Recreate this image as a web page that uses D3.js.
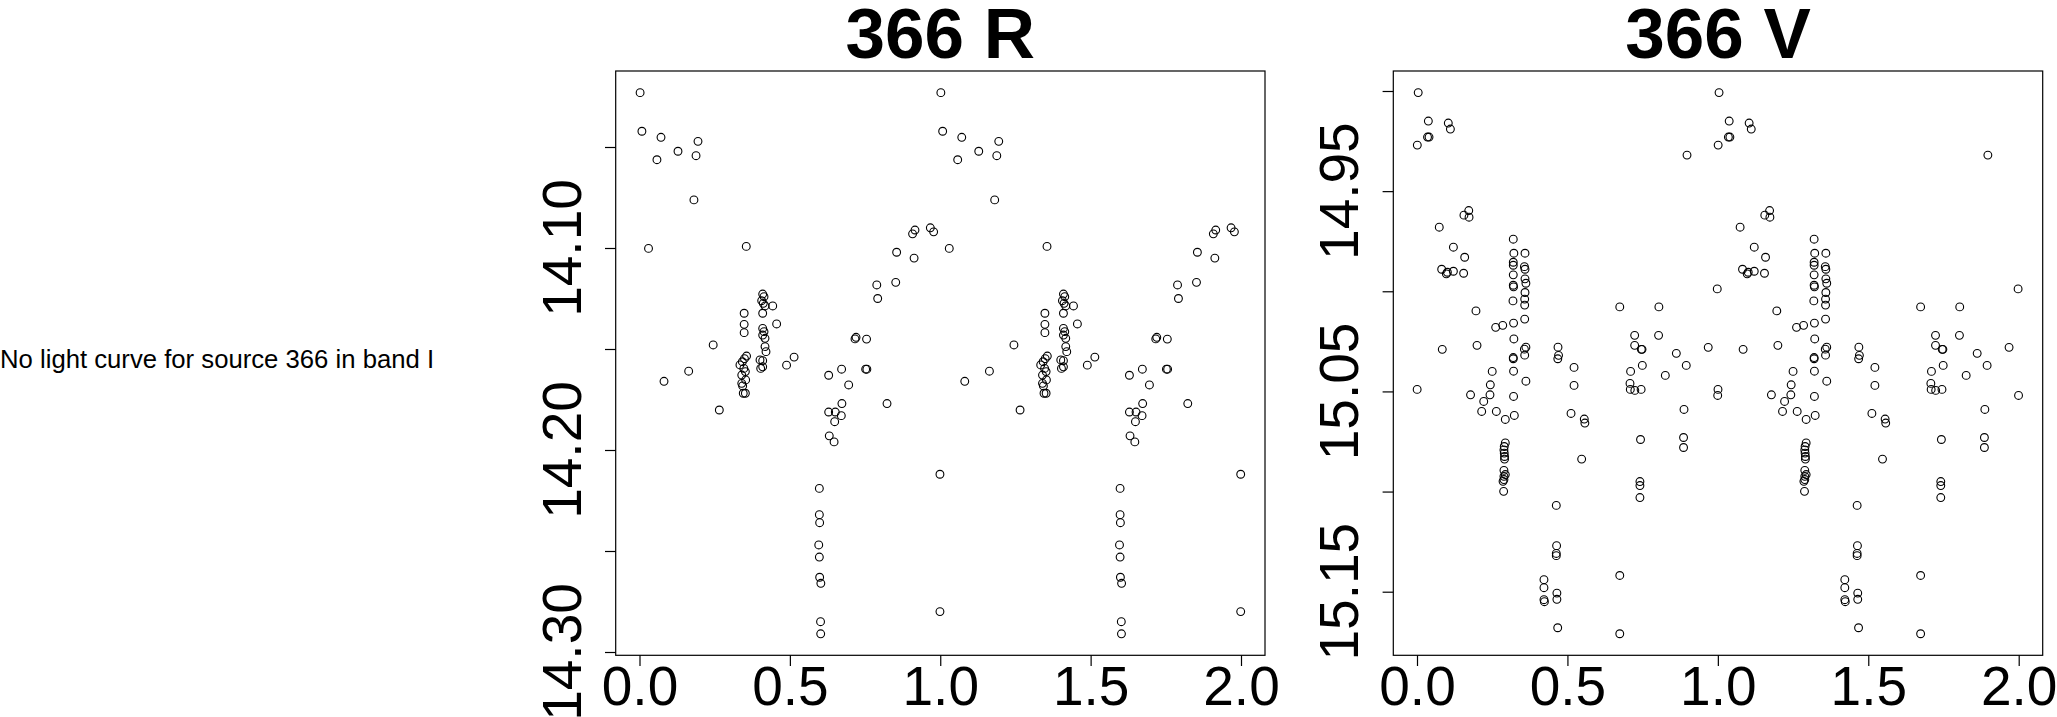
<!DOCTYPE html>
<html><head><meta charset="utf-8">
<script src="https://cdn.jsdelivr.net/npm/d3@7"></script>
<style>
body{margin:0;background:#fff}
svg{display:block}
text{font-family:"Liberation Sans",Arial,Helvetica,sans-serif;fill:#000}
</style>
</head><body>
<svg id="c" width="2057" height="717"></svg>
<script>
const source = "366";
const missingBand = "I";

// R band: phase (0-1) and magnitude
const rPhase = [0.002,0.008,0.0715,0.058,0.128,0.1945,0.188,0.181,0.030,0.355,0.245,0.0815,0.1635,0.2654,
  0.348,0.348,0.348,
  0.356,0.349,0.342,0.334,0.347,0.352,0.340,0.353,0.340,0.343,0.345,0.352,
  0.4096,0.414,0.4063,0.4116,0.4173,0.4096,0.443,0.456,0.4096,0.414,0.4096,0.4173,0.4173,0.4206,0.4007,0.4096,0.403,0.4096,
  0.489,0.514,
  0.855,0.852,0.789,0.792,0.7166,0.720,0.755,0.629,0.672,0.6955,0.752,0.756,0.823,0.673,0.629,0.651,0.671,0.649,0.631,0.647,
  0.598,0.598,0.599,0.596,0.598,0.599,0.603,0.602,0.6025,
  0.908,0.916,0.913,0.967,0.978,0.999,0.999];
const rMag = [14.0231,14.0422,14.0452,14.0563,14.0521,14.0472,14.0543,14.0762,14.1002,14.0992,14.148,14.166,14.161,14.1802,
  14.1323,14.1378,14.1419,
  14.1535,14.1548,14.1563,14.1579,14.1596,14.1612,14.1629,14.1653,14.1670,14.1683,14.1719,14.1719,
  14.1228,14.1241,14.1261,14.1274,14.1287,14.1323,14.1287,14.1376,14.1398,14.1414,14.1431,14.1447,14.1488,14.1513,14.1554,14.1558,14.1596,14.1588,
  14.158,14.154,
  14.1021,14.117,14.1183,14.125,14.1450,14.1442,14.1451,14.163,14.160,14.1678,14.160,14.160,14.177,14.177,14.1812,14.1812,14.183,14.186,14.193,14.196,
  14.219,14.232,14.236,14.247,14.253,14.263,14.266,14.285,14.291,
  14.093,14.0911,14.105,14.090,14.092,14.212,14.280];

// V band: phase (0-1) and magnitude
const vPhase = [0.004,0.0377,0.104,0.111,0.035,0.040,0.001,0.172,0.156,0.173,0.074,0.121,0.1585,0.082,0.0975,0.101,0.121,0.155,
  0.196,0.084,0.1995,0.2615,0.285,0.0005,0.250,0.2437,0.178,0.2426,
  0.320,0.322,0.320,0.320,0.320,0.320,0.321,0.319,0.321,0.322,0.320,0.320,0.321,0.321,
  0.359,0.357,0.359,0.359,0.362,0.359,0.358,0.358,0.358,0.362,0.357,0.358,0.362,
  0.2218,0.215,0.2637,0.2935,0.3235,
  0.2935,0.290,0.289,0.290,0.291,0.291,0.289,0.2935,0.289,0.289,0.286,0.288,
  0.463,0.464,0.463,0.463,0.422,0.422,0.422,0.4235,0.465,0.465,0.4677,
  0.512,0.556,0.558,0.5473,0.674,0.674,0.4687,0.4705,0.468,0.522,0.522,
  0.674,0.804,0.7235,0.803,0.7235,0.7457,0.748,0.862,0.749,0.710,0.8254,0.708,0.709,0.724,0.745,
  0.895,0.8975,0.968,0.998,0.9995,0.8875,0.743,0.886,0.886,0.741,0.741,0.741];
const vMag = [14.9008,14.915,14.916,14.919,14.923,14.923,14.927,14.9597,14.962,14.963,14.968,14.978,14.983,14.989,14.9913,14.9905,14.990,14.991,
  15.0098,15.029,15.027,15.018,15.017,15.049,15.040,15.0467,15.0517,15.0517,
  14.974,14.981,14.9855,14.987,14.9918,14.997,14.9978,15.0048,15.0159,15.0238,15.0331,15.0337,15.0399,15.0525,
  14.981,14.9877,14.989,14.9938,14.996,15.0006,15.0039,15.0069,15.0139,15.0279,15.0289,15.0319,15.0449,
  15.055,15.060,15.060,15.064,15.062,
  15.0757,15.0775,15.0792,15.0808,15.0825,15.0838,15.0894,15.0915,15.0924,15.094,15.0949,15.0999,
  15.1069,15.127,15.1309,15.132,15.144,15.148,15.154,15.155,15.1507,15.1538,15.168,
  15.061,15.0638,15.0658,15.0838,15.1419,15.171,15.0279,15.032,15.0337,15.038,15.047,
  15.0078,15.0078,15.022,15.022,15.027,15.029,15.029,15.031,15.037,15.040,15.042,15.046,15.049,15.0495,15.049,
  15.037,14.932,15.028,14.9988,15.052,15.059,15.074,15.073,15.078,15.095,15.097,15.103];

const cycles = [0, 1];
const xTicks = [0, 0.5, 1, 1.5, 2];
const rTicks = [14.05, 14.10, 14.15, 14.20, 14.25, 14.30];
const rLabels = [14.10, 14.20, 14.30];
const vTicks = [14.90, 14.95, 15.00, 15.05, 15.10, 15.15];
const vLabels = [14.95, 15.05, 15.15];

const svg = d3.select("#c");

svg.append("text")
  .attr("x", 0).attr("y", 368)
  .attr("font-size", 25.7)
  .text(`No light curve for source ${source} in band ${missingBand}`);

const panels = [
  {title: `${source} R`, phase: rPhase, mag: rMag, yTicks: rTicks, yLabels: rLabels,
   box: {l: 615.7, r: 1265, t: 71, b: 655.3}, xr: [639.5, 1241], yd: [14.10, 14.30], yr: [248, 652]},
  {title: `${source} V`, phase: vPhase, mag: vMag, yTicks: vTicks, yLabels: vLabels,
   box: {l: 1393.3, r: 2042.7, t: 71, b: 655.3}, xr: [1417, 2018.7], yd: [14.90, 15.15], yr: [91, 591.7]}
];

panels.forEach(p => {
  const x = d3.scaleLinear().domain([0, 2]).range(p.xr);
  const y = d3.scaleLinear().domain(p.yd).range(p.yr);
  const g = svg.append("g");
  const b = p.box;

  // points
  const pts = p.phase.flatMap((ph, i) => cycles.map(c => ({x: ph + c, y: p.mag[i]})));
  g.append("g").selectAll("circle").data(pts).join("circle")
    .attr("cx", d => x(d.x)).attr("cy", d => y(d.y)).attr("r", 3.9)
    .attr("fill", "none").attr("stroke", "#000").attr("stroke-width", 1.1);

  // box
  g.append("rect").attr("x", b.l).attr("y", b.t).attr("width", b.r - b.l).attr("height", b.b - b.t)
    .attr("fill", "none").attr("stroke", "#000").attr("stroke-width", 1.2);

  // x axis
  const xa = g.append("g").attr("transform", `translate(0,${b.b})`)
    .call(d3.axisBottom(x).tickValues(xTicks).tickSize(10.7).tickFormat(d3.format(".1f")));
  xa.select(".domain").remove();
  xa.selectAll(".tick line").attr("stroke", "#000").attr("stroke-width", 1.2);
  xa.selectAll(".tick text").attr("y", 49.7).attr("dy", null)
    .attr("font-size", 55).attr("font-family", null);

  // y axis
  const ya = g.append("g").attr("transform", `translate(${b.l},0)`)
    .call(d3.axisLeft(y).tickValues(p.yTicks).tickSize(10.7).tickFormat(() => ""));
  ya.select(".domain").remove();
  ya.selectAll(".tick line").attr("stroke", "#000").attr("stroke-width", 1.2);
  g.append("g").selectAll("text").data(p.yLabels).join("text")
    .attr("transform", d => `translate(${b.l - 35},${y(d)}) rotate(-90)`)
    .attr("text-anchor", "middle").attr("font-size", 55)
    .text(d => d3.format(".2f")(d));

  // title
  g.append("text").attr("x", (b.l + b.r) / 2).attr("y", 57.7)
    .attr("text-anchor", "middle").attr("font-size", 71).attr("font-weight", "bold")
    .text(p.title);
});
</script>
</body></html>
